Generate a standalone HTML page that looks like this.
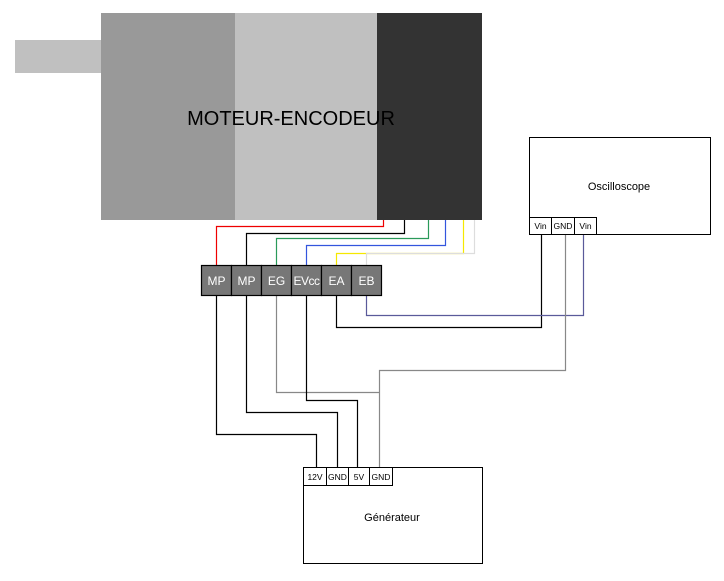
<!DOCTYPE html>
<html><head><meta charset="utf-8"><style>
body{margin:0;background:#fff;}
svg{display:block;font-family:"Liberation Sans",sans-serif;}
</style></head><body>
<svg width="724" height="581" viewBox="0 0 724 581">
<rect x="15" y="40" width="86" height="33" fill="#c0c0c0"/>
<rect x="101" y="13" width="134" height="207" fill="#999"/>
<rect x="235" y="13" width="142" height="207" fill="#c0c0c0"/>
<rect x="377" y="13" width="105" height="207" fill="#333"/>
<text x="291" y="125" font-size="20" text-anchor="middle" fill="#000">MOTEUR-ENCODEUR</text>
<g fill="none" stroke-width="1.2">
<polyline points="383.5,220 383.5,226.5 216.5,226.5 216.5,265" stroke="#e00"/>
<polyline points="404.5,220 404.5,233.5 246.5,233.5 246.5,265" stroke="#000"/>
<polyline points="428.5,220 428.5,238.5 276.5,238.5 276.5,265" stroke="#2a9a5a"/>
<polyline points="445.5,220 445.5,245.5 306.5,245.5 306.5,265" stroke="#3355dd"/>
<polyline points="463.5,220 463.5,253.5 336.5,253.5 336.5,265" stroke="#f5e800"/>
<polyline points="474.5,220 474.5,253.5 366.5,253.5 366.5,265" stroke="#ddd"/>
<polyline points="216.5,295 216.5,434.5 316.5,434.5 316.5,467" stroke="#000"/>
<polyline points="246.5,295 246.5,412.5 337.5,412.5 337.5,467" stroke="#000"/>
<polyline points="276.5,295 276.5,392.5 379.5,392.5" stroke="#888"/>
<polyline points="306.5,295 306.5,400.5 357.5,400.5 357.5,467" stroke="#000"/>
<polyline points="336.5,295 336.5,327.5 541.5,327.5 541.5,234" stroke="#000"/>
<polyline points="366.5,295 366.5,315.5 583.5,315.5 583.5,234" stroke="#5a5a9a"/>
<polyline points="379.5,467 379.5,370.5 565.5,370.5 565.5,234" stroke="#888"/>
</g>
<g stroke="#000" stroke-width="1.2" fill="#777">
<rect x="201.5" y="265.5" width="30" height="30"/>
<rect x="231.5" y="265.5" width="30" height="30"/>
<rect x="261.5" y="265.5" width="30" height="30"/>
<rect x="291.5" y="265.5" width="30" height="30"/>
<rect x="321.5" y="265.5" width="30" height="30"/>
<rect x="351.5" y="265.5" width="30" height="30"/>
</g>
<g fill="#fff" font-size="12" text-anchor="middle">
<text x="216.5" y="285">MP</text><text x="246.5" y="285">MP</text>
<text x="276.5" y="285">EG</text><text x="306.5" y="285" letter-spacing="-0.5">EVcc</text>
<text x="336.5" y="285">EA</text><text x="366.5" y="285">EB</text>
</g>
<g stroke="#000" fill="#fff">
<rect x="529.5" y="137.5" width="181" height="97"/>
<rect x="529.5" y="217.5" width="22" height="17"/>
<rect x="551.5" y="217.5" width="23" height="17"/>
<rect x="574.5" y="217.5" width="22" height="17"/>
<rect x="303.5" y="467.5" width="179" height="96"/>
<rect x="303.5" y="467.5" width="23" height="18"/>
<rect x="326.5" y="467.5" width="22" height="18"/>
<rect x="348.5" y="467.5" width="21" height="18"/>
<rect x="369.5" y="467.5" width="23" height="18"/>
</g>
<text x="619" y="190" font-size="11" text-anchor="middle">Oscilloscope</text>
<text x="392" y="521" font-size="11" text-anchor="middle">Générateur</text>
<g font-size="8.5" text-anchor="middle">
<text x="540.5" y="229">Vin</text><text x="563" y="229">GND</text><text x="585.5" y="229">Vin</text>
<text x="315" y="480">12V</text><text x="337.5" y="480">GND</text><text x="359" y="480">5V</text><text x="381" y="480">GND</text>
</g>
</svg>
</body></html>
